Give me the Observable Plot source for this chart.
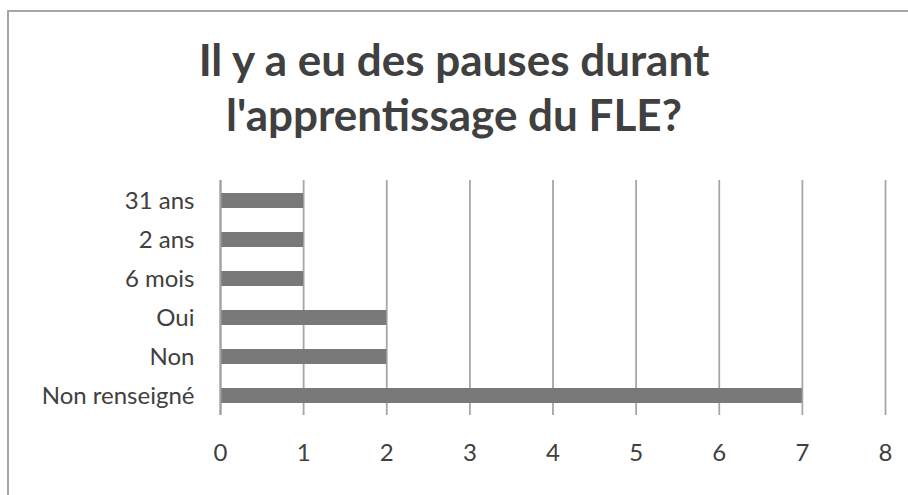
<!DOCTYPE html>
<html><head><meta charset="utf-8">
<script src="https://cdn.jsdelivr.net/npm/d3@7"></script>
<script src="https://cdn.jsdelivr.net/npm/@observablehq/plot@0.6"></script>
<style>
html,body{margin:0;padding:0;background:#fff;overflow:hidden;width:908px;height:495px;}
#frame{position:absolute;left:7px;top:10px;width:1000px;height:1000px;border-left:2px solid #a6a6a6;border-top:2px solid #a6a6a6;}
#title{position:absolute;left:0;top:32px;width:908px;text-align:center;font-family:Lato,"Open Sans",sans-serif;font-weight:bold;font-size:44px;line-height:55px;color:#404040;}
#chart{position:absolute;left:0;top:165px;}
</style></head>
<body>
<div id="frame"></div>
<div id="title">Il y a eu des pauses durant<br>l'apprentissage du FLE?</div>
<div id="chart"></div>
<script>
const categories = ["31 ans", "2 ans", "6 mois", "Oui", "Non", "Non renseigné"];
const values = [1, 1, 1, 2, 2, 7];
const xTicks = [0, 1, 2, 3, 4, 5, 6, 7, 8];

const data = categories.map((c, i) => ({cat: c, val: values[i]}));

const chart = Plot.plot({
  width: 908,
  height: 330,
  marginLeft: 220,
  marginRight: 23,
  marginTop: 15,
  marginBottom: 80,
  style: {fontFamily: "Lato, 'Open Sans', sans-serif", fontSize: "24px", color: "#404040", background: "transparent"},
  x: {domain: [0, 8], ticks: xTicks, tickSize: 0, tickPadding: 28, label: null, tickFormat: d => String(d)},
  y: {domain: categories, tickSize: 0, tickPadding: 26, label: null, paddingInner: 0.617, paddingOuter: 0.308},
  marks: [
    Plot.gridX(xTicks, {stroke: "#a6a6a6", strokeOpacity: 1, strokeWidth: 1.8}),
    Plot.barX(data, {x: "val", y: "cat", fill: "#797979"}),
    Plot.ruleX([0], {stroke: "#a0a0a0", strokeWidth: 2}),
    Plot.ruleY([0], {frameAnchor: "bottom", stroke: "#a0a0a0", strokeWidth: 2})
  ]
});
document.getElementById("chart").appendChild(chart);
</script>
</body></html>
